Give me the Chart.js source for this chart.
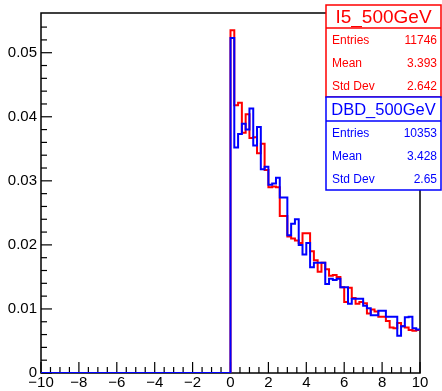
<!DOCTYPE html>
<html>
<head>
<meta charset="utf-8">
<script src="https://cdn.jsdelivr.net/npm/chart.js@4/dist/chart.umd.min.js"></script>
<style>
  html, body { margin: 0; padding: 0; background: #fff; }
  #wrap { width: 442px; height: 391px; position: relative; }
</style>
</head>
<body>
<div id="wrap"><canvas id="grafica"></canvas></div>
<script>
// histogram binning: 0.2 wide bins, everything below 0 is empty
const binWidth = 0.2;
const xMin = -10;
const xMax = 10;

// bin contents from 0 to 10 (normalised)
const valoresI5 = [
    0.0535, 0.0418, 0.0422, 0.0375, 0.0404, 0.0367, 0.0368, 0.0343, 0.0358, 0.0317,
    0.0290, 0.0291, 0.0290, 0.0245, 0.0245, 0.0213, 0.0210, 0.0207, 0.0203, 0.0218,
    0.0218, 0.0190, 0.0176, 0.0158, 0.0172, 0.0162, 0.0152, 0.0153, 0.0150, 0.0134,
    0.0111, 0.0133, 0.0117, 0.0108, 0.0111, 0.0109, 0.0093, 0.0099, 0.0096, 0.0088,
    0.0088, 0.0081, 0.0071, 0.0070, 0.0078, 0.0073, 0.0071, 0.0067, 0.0066, 0.0067
];
const valoresDBD = [
    0.0523, 0.0352, 0.0373, 0.0389, 0.0380, 0.0413, 0.0355, 0.0384, 0.0318, 0.0322,
    0.0294, 0.0296, 0.0305, 0.0274, 0.0274, 0.0215, 0.0233, 0.0240, 0.0200, 0.0185,
    0.0203, 0.0165, 0.0172, 0.0172, 0.0172, 0.0139, 0.0147, 0.0145, 0.0147, 0.0134,
    0.0134, 0.0108, 0.0116, 0.0116, 0.0116, 0.0105, 0.0101, 0.0090, 0.0090, 0.0097,
    0.0097, 0.0088, 0.0088, 0.0088, 0.0058, 0.0073, 0.0087, 0.0088, 0.0070, 0.0068
];

// stat boxes
const nombresStats = ['Entries', 'Mean', 'Std Dev'];
const statsI5 = ['11746', '3.393', '2.642'];
const statsDBD = ['10353', '3.428', '2.65'];

const ROJO = '#ff0000';
const AZUL = '#0000ff';
const FUENTE = '"Liberation Sans", Arial, Helvetica, sans-serif';

function puntosHisto(valores) {
    // step line: empty part from xMin to 0, then one point per lower bin edge
    const pts = [{ x: xMin, y: 0 }];
    valores.forEach((v, i) => pts.push({ x: i * binWidth, y: v }));
    pts.push({ x: xMax, y: valores[valores.length - 1] });
    return pts;
}

function esMultiplo(v, paso) {
    const r = v / paso;
    return Math.abs(r - Math.round(r)) < 1e-6;
}

// frame + inward ticks, drawn under the histograms
const marcoPlugin = {
    id: 'marco',
    beforeDatasetsDraw(chart) {
        const { ctx, chartArea: a, scales } = chart;
        ctx.save();
        ctx.strokeStyle = '#000';
        ctx.lineWidth = 1.5;
        ctx.strokeRect(a.left, a.top, a.right - a.left, a.bottom - a.top);
        ctx.lineWidth = 1.2;
        scales.x.ticks.forEach(t => {
            const px = scales.x.getPixelForValue(t.value);
            const len = esMultiplo(t.value, 2) ? 11 : 6;
            ctx.beginPath();
            ctx.moveTo(px, a.bottom);
            ctx.lineTo(px, a.bottom - len);
            ctx.stroke();
        });
        scales.y.ticks.forEach(t => {
            if (t.value > 0.0561) return;
            const py = scales.y.getPixelForValue(t.value);
            const len = esMultiplo(t.value, 0.01) ? 11 : 6;
            ctx.beginPath();
            ctx.moveTo(a.left, py);
            ctx.lineTo(a.left + len, py);
            ctx.stroke();
        });
        ctx.restore();
    }
};

function cajaStats(ctx, c) {
    ctx.save();
    ctx.fillStyle = '#fff';
    ctx.fillRect(c.x, c.y, c.w, c.h);
    ctx.strokeStyle = c.color;
    ctx.lineWidth = 1.5;
    ctx.strokeRect(c.x, c.y, c.w, c.h);
    ctx.beginPath();
    ctx.moveTo(c.x, c.y + c.hTitulo);
    ctx.lineTo(c.x + c.w, c.y + c.hTitulo);
    ctx.stroke();

    ctx.fillStyle = c.color;
    ctx.textBaseline = 'middle';
    ctx.textAlign = 'center';
    ctx.font = `${c.tamTitulo}px ${FUENTE}`;
    ctx.fillText(c.titulo, c.x + c.w / 2, c.y + c.hTitulo / 2 + 1);

    ctx.font = `12px ${FUENTE}`;
    nombresStats.forEach((n, i) => {
        const y = c.y + c.hTitulo + 13 + i * 23;
        ctx.textAlign = 'left';
        ctx.fillText(n, c.x + 6, y);
        ctx.textAlign = 'right';
        ctx.fillText(c.valores[i], c.x + c.w - 4, y);
    });
    ctx.restore();
}

const statsPlugin = {
    id: 'stats',
    afterDraw(chart) {
        const ctx = chart.ctx;
        cajaStats(ctx, { x: 326, y: 5, w: 115, h: 92, hTitulo: 23, color: ROJO,
            titulo: 'I5_500GeV', tamTitulo: 19, valores: statsI5 });
        cajaStats(ctx, { x: 326, y: 97, w: 115, h: 93, hTitulo: 24, color: AZUL,
            titulo: 'DBD_500GeV', tamTitulo: 16.5, valores: statsDBD });
    }
};

function initChart() {
    const ctx = document.getElementById('grafica').getContext('2d');
    new Chart(ctx, {
        type: 'line',
        data: {
            datasets: [
                {
                    label: 'DBD_500GeV',
                    data: puntosHisto(valoresDBD),
                    borderColor: AZUL,
                    borderWidth: 2,
                    stepped: true,
                    pointRadius: 0,
                    fill: false
                },
                {
                    label: 'I5_500GeV',
                    data: puntosHisto(valoresI5),
                    borderColor: ROJO,
                    borderWidth: 2,
                    stepped: true,
                    pointRadius: 0,
                    fill: false
                }
            ]
        },
        options: {
            responsive: true,
            maintainAspectRatio: false,
            animation: false,
            devicePixelRatio: 1,
            layout: { padding: { top: 5, right: 22, left: 0, bottom: 0 } },
            plugins: { legend: { display: false }, tooltip: { enabled: false } },
            scales: {
                x: {
                    type: 'linear',
                    min: xMin,
                    max: xMax,
                    afterFit: s => { s.height = 18; },
                    grid: { display: false, drawTicks: false },
                    border: { display: false },
                    ticks: {
                        stepSize: 0.5,
                        autoSkip: false,
                        maxRotation: 0,
                        padding: 1,
                        color: '#000',
                        font: { family: FUENTE, size: 15 },
                        callback: v => esMultiplo(v, 2) ? String(Math.round(v)).replace('-', '\u2212') : ''
                    }
                },
                y: {
                    min: 0,
                    max: 0.0562,
                    afterFit: s => { s.width = 41; },
                    grid: { display: false, drawTicks: false },
                    border: { display: false },
                    ticks: {
                        stepSize: 0.002,
                        autoSkip: false,
                        padding: 4,
                        color: '#000',
                        font: { family: FUENTE, size: 15 },
                        callback: v => {
                            if (v > 0.0561 || !esMultiplo(v, 0.01)) return '';
                            return v === 0 ? '0' : v.toFixed(2);
                        }
                    }
                }
            }
        },
        plugins: [marcoPlugin, statsPlugin]
    });
}

document.addEventListener('DOMContentLoaded', initChart);
</script>
</body>
</html>
